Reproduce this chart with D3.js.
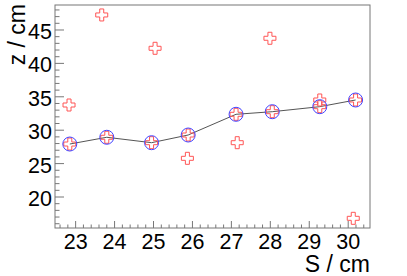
<!DOCTYPE html>
<html><head><meta charset="utf-8">
<script src="https://cdn.jsdelivr.net/npm/d3@7"></script>
<style>body{margin:0;background:#fff}svg{display:block}text{font-family:"Liberation Sans",Arial,sans-serif}</style>
</head><body><svg id="c" width="407" height="276"></svg>
<script>
const circleS = [22.85, 23.80, 24.95, 25.89, 27.12, 28.05, 29.27, 30.19];
const circleZ = [27.93, 28.94, 28.13, 29.28, 32.38, 32.77, 33.52, 34.52];
const crossS = [22.83, 23.67, 25.04, 25.87, 27.15, 27.99, 29.27, 30.13];
const crossZ = [33.77, 47.25, 42.26, 25.79, 28.13, 43.76, 34.52, 16.81];
const xTicks = [23, 24, 25, 26, 27, 28, 29, 30];
const yTicks = [20, 25, 30, 35, 40, 45];
const xTitle = "S / cm", yTitle = "z / cm";

const svg = d3.select("#c");
const L = 55, R = 370, T = 5, B = 228;
const x = d3.scaleLinear().domain([22.47, 30.56]).range([L, R]);
const y = d3.scaleLinear().domain([15.36, 48.74]).range([B, T]);
const axisCol = "#777";

svg.append("rect").attr("x", L).attr("y", T).attr("width", R - L).attr("height", B - T)
  .attr("fill", "none").attr("stroke", axisCol).attr("stroke-width", 1);

// x ticks
const xMinor = d3.range(22.6, 30.56, 0.2).filter(v => Math.abs(v - Math.round(v)) > 1e-6);
const gx = svg.append("g");
gx.selectAll("line.mj").data(xTicks).join("line").attr("x1", d => x(d)).attr("x2", d => x(d))
  .attr("y1", B).attr("y2", B - 7).attr("stroke", axisCol);
gx.selectAll("line.mn").data(xMinor).join("line").attr("x1", d => x(d)).attr("x2", d => x(d))
  .attr("y1", B).attr("y2", B - 3.5).attr("stroke", axisCol);
gx.selectAll("text").data(xTicks).join("text").attr("x", d => x(d)).attr("y", 248.5)
  .attr("text-anchor", "middle").attr("font-size", 21.5).text(d => d);

// y ticks
const yMinor = d3.range(16, 49, 1).filter(v => v % 5 !== 0);
const gy = svg.append("g");
gy.selectAll("line.mj").data(yTicks).join("line").attr("y1", d => y(d)).attr("y2", d => y(d))
  .attr("x1", L).attr("x2", L + 9).attr("stroke", axisCol);
gy.selectAll("line.mn").data(yMinor).join("line").attr("y1", d => y(d)).attr("y2", d => y(d))
  .attr("x1", L).attr("x2", L + 4.5).attr("stroke", axisCol);
gy.selectAll("text").data(yTicks).join("text").attr("x", 52).attr("y", d => y(d) + 9)
  .attr("text-anchor", "end").attr("font-size", 21.5).text(d => d);

svg.append("text").attr("x", R).attr("y", 271.5).attr("text-anchor", "end")
  .attr("font-size", 23).text(xTitle);
svg.append("text").attr("transform", `translate(25,4) rotate(-90)`).attr("text-anchor", "end")
  .attr("font-size", 23).text(yTitle);

// line
const pts = circleS.map((s, i) => [s, circleZ[i]]);
svg.append("path").datum(pts).attr("fill", "none").attr("stroke", "#555").attr("stroke-width", 1)
  .attr("d", d3.line().x(d => x(d[0])).y(d => y(d[1])));

// crosses
function crossPath(cx, cy) {
  const a = 6, b = 2;
  return `M${cx - b},${cy - a}H${cx + b}V${cy - b}H${cx + a}V${cy + b}H${cx + b}V${cy + a}H${cx - b}V${cy + b}H${cx - a}V${cy - b}H${cx - b}Z`;
}
const allCross = crossS.map((s, i) => [s, crossZ[i]]).concat(pts);
svg.append("g").selectAll("path").data(allCross).join("path")
  .attr("d", d => crossPath(x(d[0]), y(d[1])))
  .attr("fill", "none").attr("stroke", "#ff5555").attr("stroke-width", 1);

svg.append("g").selectAll("circle").data(pts).join("circle")
  .attr("cx", d => x(d[0])).attr("cy", d => y(d[1])).attr("r", 7)
  .attr("fill", "none").attr("stroke", "#4444ff").attr("stroke-width", 1);
</script></body></html>
